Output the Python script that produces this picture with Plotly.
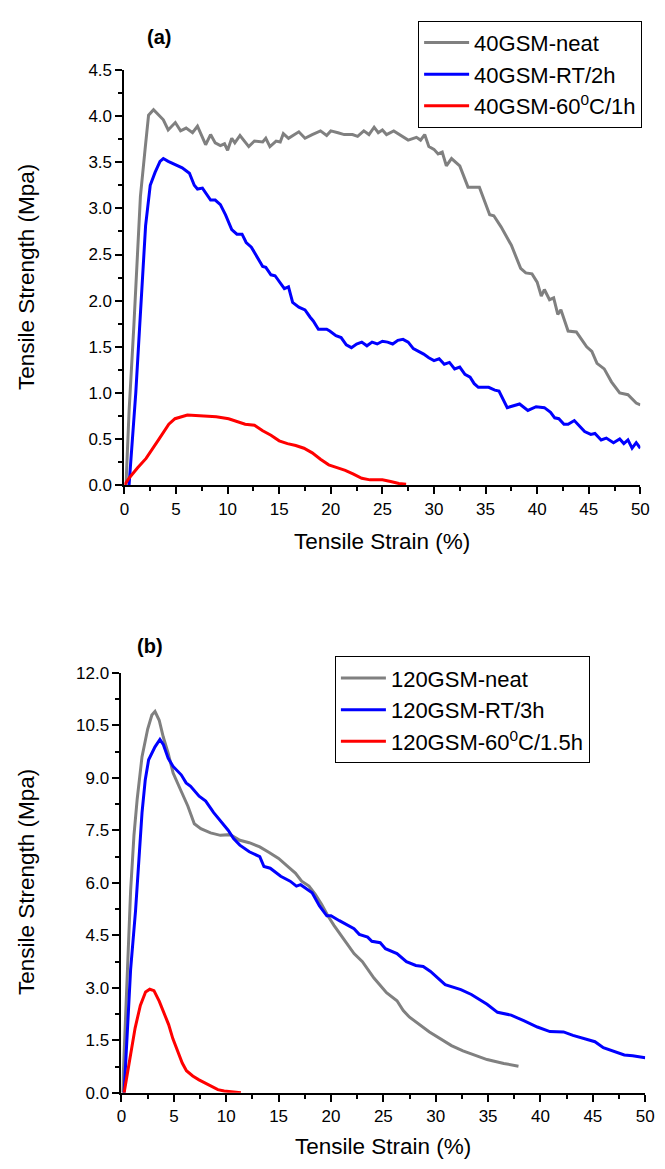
import plotly.graph_objects as go

# ---------------- Panel (a) data ----------------
gray_a_x = [0.15, 0.45, 0.92, 1.3, 1.55, 2.0, 2.34, 2.82, 3.3, 3.77, 4.24, 4.93, 5.44, 5.98, 6.6, 7.08,
            7.87, 8.35, 8.8, 9.3, 9.7, 10.0, 10.4, 10.7, 11.2, 12.05, 12.6, 13.4, 13.7, 14.1, 14.7,
            15.1, 15.4, 15.9, 16.9, 17.5, 18.2, 19.0, 19.6, 20.0, 20.7, 21.3, 22.1, 22.6, 23.2, 23.7,
            24.2, 24.6, 25.0, 25.4, 26.1, 26.7, 27.5, 28.3, 28.7, 29.1, 29.5, 30.0, 30.4, 30.8, 31.2,
            31.7, 32.5, 33.3, 34.4, 35.4, 35.8, 36.5, 37.1, 37.5, 38.4, 38.9, 39.5, 40.0, 40.4, 40.7,
            41.2, 41.6, 42.0, 42.3, 43.0, 43.8, 44.3, 44.8, 45.3, 45.8, 46.5, 47.2, 48.0, 48.8, 49.6, 50.0]
gray_a_y = [0.0, 0.8, 1.74, 2.65, 3.13, 3.64, 4.01, 4.07, 4.02, 3.96, 3.85, 3.93, 3.84, 3.87, 3.82, 3.89,
            3.69, 3.80, 3.71, 3.68, 3.70, 3.63, 3.76, 3.71, 3.79, 3.67, 3.73, 3.72, 3.76, 3.67, 3.73,
            3.72, 3.81, 3.76, 3.83, 3.76, 3.80, 3.84, 3.79, 3.84, 3.82, 3.80, 3.80, 3.78, 3.84, 3.80,
            3.88, 3.82, 3.85, 3.80, 3.84, 3.80, 3.74, 3.77, 3.74, 3.80, 3.67, 3.64, 3.59, 3.61, 3.46,
            3.54, 3.46, 3.23, 3.23, 2.93, 2.92, 2.80, 2.67, 2.60, 2.35, 2.30, 2.29, 2.20, 2.05, 2.12,
            2.01, 2.03, 1.85, 1.90, 1.67, 1.66, 1.58, 1.50, 1.45, 1.32, 1.26, 1.12, 1.00, 0.98, 0.89, 0.87]

blue_a_x = [0.45, 1.1, 1.45, 1.75, 2.05, 2.5, 2.97, 3.45, 3.77, 4.24, 5.19, 5.6, 6.3, 6.77, 7.08, 7.56,
            8.35, 8.8, 9.3, 9.8, 10.4, 10.9, 11.4, 11.8, 12.3, 12.8, 13.4, 13.7, 14.2, 14.6, 15.2, 15.5,
            15.9, 16.3, 16.9, 17.5, 18.0, 18.3, 18.8, 19.6, 19.9, 20.5, 21.0, 21.5, 22.0, 22.5, 23.0,
            23.5, 24.0, 24.5, 25.0, 25.5, 26.0, 26.5, 27.0, 27.5, 28.0, 28.5, 29.0, 29.5, 30.0, 30.5,
            31.0, 31.5, 32.0, 32.5, 33.0, 33.5, 33.9, 34.3, 35.3, 35.9, 36.3, 37.1, 38.3, 39.1, 39.9,
            40.7, 41.3, 41.7, 42.1, 42.6, 43.0, 43.6, 44.2, 44.6, 45.2, 45.6, 46.2, 46.7, 47.4, 48.0,
            48.4, 48.8, 49.2, 49.6, 50.0]
blue_a_y = [0.0, 1.0, 1.67, 2.31, 2.81, 3.25, 3.39, 3.51, 3.54, 3.51, 3.46, 3.44, 3.38, 3.25, 3.21, 3.22,
            3.09, 3.09, 3.04, 2.93, 2.77, 2.72, 2.72, 2.63, 2.58, 2.49, 2.37, 2.36, 2.28, 2.27, 2.17, 2.13,
            2.15, 1.98, 1.93, 1.90, 1.82, 1.78, 1.69, 1.69, 1.67, 1.62, 1.60, 1.52, 1.49, 1.53, 1.55,
            1.51, 1.55, 1.53, 1.56, 1.55, 1.53, 1.57, 1.58, 1.55, 1.48, 1.45, 1.42, 1.38, 1.35, 1.37,
            1.31, 1.33, 1.26, 1.28, 1.20, 1.17, 1.10, 1.06, 1.06, 1.03, 1.02, 0.84, 0.88, 0.81, 0.85,
            0.84, 0.79, 0.73, 0.72, 0.66, 0.66, 0.70, 0.63, 0.58, 0.55, 0.56, 0.49, 0.51, 0.46, 0.50,
            0.45, 0.49, 0.40, 0.46, 0.40]

red_a_x = [0.0, 0.48, 1.3, 2.1, 3.3, 4.3, 4.9, 5.5, 6.1, 7.7, 8.9, 10.1, 10.9, 11.7, 12.6, 13.4, 14.2,
           15.0, 15.8, 16.6, 17.4, 18.2, 19.0, 19.8, 20.6, 21.4, 22.2, 23.0, 23.8, 25.0, 25.8, 26.6, 27.3]
red_a_y = [0.0, 0.08, 0.19, 0.29, 0.49, 0.66, 0.72, 0.74, 0.76, 0.75, 0.74, 0.72, 0.69, 0.66, 0.65, 0.59,
           0.54, 0.48, 0.45, 0.43, 0.40, 0.35, 0.28, 0.22, 0.19, 0.16, 0.12, 0.074, 0.057, 0.057, 0.04,
           0.018, 0.01]

# ---------------- Panel (b) data ----------------
gray_b_x = [0.1, 0.65, 0.87, 1.19, 1.5, 1.96, 2.5, 2.9, 3.2, 3.6, 3.99, 4.46, 4.93, 5.7, 6.33, 6.95, 7.57,
            8.5, 9.44, 10.37, 11.3, 12.2, 13.2, 14.1, 15.0, 16.0, 16.6, 17.2, 17.9, 18.5, 19.1, 19.7,
            20.3, 21.3, 22.2, 23.0, 24.1, 25.3, 26.3, 26.9, 27.5, 29.4, 30.9, 31.5, 32.6, 33.5, 34.9,
            36.5, 37.1, 37.9]
gray_b_y = [0.0, 3.90, 5.77, 7.36, 8.40, 9.61, 10.4, 10.8, 10.9, 10.65, 10.17, 9.70, 9.14, 8.62, 8.20,
            7.69, 7.55, 7.43, 7.36, 7.38, 7.22, 7.15, 7.03, 6.87, 6.70, 6.44, 6.28, 6.05, 5.91, 5.67,
            5.39, 5.06, 4.78, 4.36, 3.98, 3.75, 3.28, 2.86, 2.63, 2.35, 2.16, 1.74, 1.47, 1.35, 1.20,
            1.10, 0.95, 0.84, 0.80, 0.76]

blue_b_x = [0.25, 0.87, 1.34, 1.65, 1.96, 2.27, 2.59, 3.2, 3.67, 4.0, 4.46, 4.93, 5.7, 6.17, 6.6, 7.41,
            8.04, 8.8, 9.6, 10.2, 10.7, 11.3, 12.2, 13.2, 13.6, 14.2, 15.2, 16.1, 16.7, 17.1, 18.2, 18.9,
            19.6, 20.0, 20.8, 21.6, 22.2, 22.7, 23.5, 23.9, 24.7, 25.2, 26.3, 27.2, 28.1, 28.8, 29.5,
            30.9, 32.4, 33.4, 34.9, 35.9, 37.2, 38.4, 39.7, 40.9, 42.2, 43.1, 44.3, 45.2, 46.0, 47.2,
            48.0, 48.8, 50.0]
blue_b_y = [0.0, 3.52, 5.20, 6.70, 8.01, 8.95, 9.52, 9.89, 10.1, 9.95, 9.56, 9.33, 9.09, 8.86, 8.76, 8.48,
            8.34, 8.01, 7.73, 7.50, 7.27, 7.08, 6.89, 6.75, 6.47, 6.42, 6.19, 6.05, 5.91, 5.95, 5.72, 5.34,
            5.06, 5.06, 4.92, 4.78, 4.69, 4.53, 4.45, 4.33, 4.29, 4.12, 3.98, 3.75, 3.64, 3.61, 3.47,
            3.09, 2.95, 2.81, 2.53, 2.30, 2.22, 2.06, 1.88, 1.75, 1.74, 1.64, 1.53, 1.46, 1.29, 1.17,
            1.08, 1.06, 1.00]

red_b_x = [0.25, 0.8, 1.3, 1.8, 2.3, 2.7, 3.1, 3.6, 4.2, 4.5, 4.9, 5.4, 5.8, 6.2, 6.8, 7.4, 8.0, 8.6,
           9.2, 9.8, 10.4, 11.4]
red_b_y = [0.0, 1.0, 1.85, 2.5, 2.88, 2.96, 2.92, 2.62, 2.2, 1.95, 1.55, 1.17, 0.85, 0.63, 0.48, 0.37,
           0.27, 0.17, 0.09, 0.05, 0.03, 0.0]

names_a = ["40GSM-neat", "40GSM-RT/2h", "40GSM-60<sup>0</sup>C/1h"]
names_b = ["120GSM-neat", "120GSM-RT/3h", "120GSM-60<sup>0</sup>C/1.5h"]
colors = ["#808080", "#0000FF", "#FF0000"]

W, H = 665, 1169
FONT = "Liberation Sans, Arial, sans-serif"

fig = go.Figure()
for (xs, ys), nm, c in zip([(gray_a_x, gray_a_y), (blue_a_x, blue_a_y), (red_a_x, red_a_y)], names_a, colors):
    fig.add_trace(go.Scatter(x=xs, y=ys, mode="lines", name=nm, line=dict(color=c, width=3),
                             xaxis="x", yaxis="y", legend="legend"))
for (xs, ys), nm, c in zip([(gray_b_x, gray_b_y), (blue_b_x, blue_b_y), (red_b_x, red_b_y)], names_b, colors):
    fig.add_trace(go.Scatter(x=xs, y=ys, mode="lines", name=nm, line=dict(color=c, width=3),
                             xaxis="x2", yaxis="y2", legend="legend2"))


def px_x(p):
    return p / W


def px_y(p):
    return 1 - p / H


common = dict(showline=True, linecolor="black", linewidth=2, ticks="outside", tickwidth=2,
              tickcolor="black", ticklen=7, showgrid=False, zeroline=False,
              tickfont=dict(size=17, color="black", family=FONT))

fig.update_layout(
    width=W, height=H, margin=dict(l=0, r=0, t=0, b=0),
    paper_bgcolor="white", plot_bgcolor="white",
    font=dict(family=FONT, color="black"),
    xaxis=dict(domain=[px_x(122), px_x(649)], range=[0, 50], dtick=5, anchor="y",
               minor=dict(ticks="outside", dtick=2.5, ticklen=4, tickwidth=2, tickcolor="black"), **common),
    yaxis=dict(domain=[px_y(484), px_y(62)], range=[0, 4.5], dtick=0.5, tickformat=".1f", anchor="x",
               minor=dict(ticks="outside", dtick=0.25, ticklen=4, tickwidth=2, tickcolor="black"), **common),
    xaxis2=dict(domain=[px_x(119), px_x(654)], range=[0, 50], dtick=5, anchor="y2",
                minor=dict(ticks="outside", dtick=2.5, ticklen=4, tickwidth=2, tickcolor="black"), **common),
    yaxis2=dict(domain=[px_y(1101.7), px_y(675)], range=[0, 12], dtick=1.5, tickformat=".1f", anchor="x2",
                minor=dict(ticks="outside", dtick=0.75, ticklen=4, tickwidth=2, tickcolor="black"), **common),
    legend=dict(x=px_x(422), y=px_y(12), xanchor="left", yanchor="top", bordercolor="black", borderwidth=1,
                bgcolor="white", font=dict(size=22, family=FONT, color="black"), tracegroupgap=0,
                itemwidth=45),
    legend2=dict(x=px_x(337), y=px_y(658), xanchor="left", yanchor="top", bordercolor="black", borderwidth=1,
                 bgcolor="white", font=dict(size=22, family=FONT, color="black"), tracegroupgap=0,
                 itemwidth=45),
    showlegend=True,
)

TS = 22.5
ann = []
ann.append(dict(text="<b>(a)</b>", x=px_x(157), y=px_y(28), xref="paper", yref="paper", showarrow=False,
                font=dict(size=20, family=FONT), xanchor="center", yanchor="middle"))
ann.append(dict(text="<b>(b)</b>", x=px_x(148), y=px_y(648), xref="paper", yref="paper", showarrow=False,
                font=dict(size=20, family=FONT), xanchor="center", yanchor="middle"))
ann.append(dict(text="Tensile Strain (%)", x=px_x(385), y=px_y(541), xref="paper", yref="paper",
                showarrow=False, font=dict(size=TS, family=FONT), xanchor="center", yanchor="middle"))
ann.append(dict(text="Tensile Strain (%)", x=px_x(386), y=px_y(1156), xref="paper", yref="paper",
                showarrow=False, font=dict(size=TS, family=FONT), xanchor="center", yanchor="middle"))
ann.append(dict(text="Tensile Strength (Mpa)", x=px_x(22), y=px_y(273), xref="paper", yref="paper",
                showarrow=False, textangle=-90, font=dict(size=TS, family=FONT), xanchor="center", yanchor="middle"))
ann.append(dict(text="Tensile Strength (Mpa)", x=px_x(22), y=px_y(888), xref="paper", yref="paper",
                showarrow=False, textangle=-90, font=dict(size=TS, family=FONT), xanchor="center", yanchor="middle"))
fig.update_layout(annotations=ann)

fig.write_html("out.html", config={"displayModeBar": False},
               post_script="document.body.style.margin='0';document.body.style.overflow='hidden';")
